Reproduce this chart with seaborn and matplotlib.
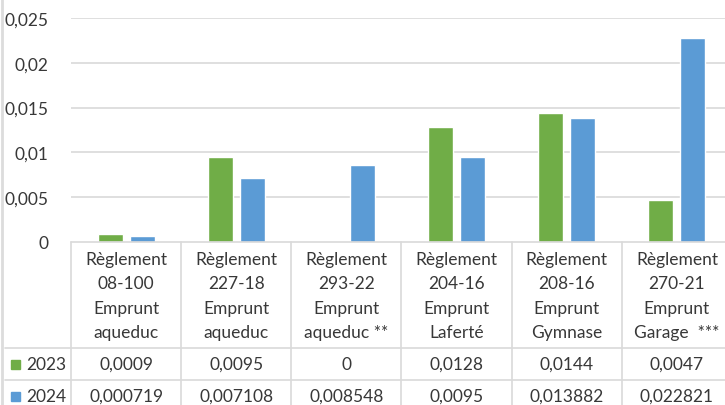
import matplotlib
matplotlib.use("Agg")
import matplotlib.pyplot as plt
import numpy as np
import pandas as pd
import seaborn as sns

# data
categories = [
    "Règlement\n08-100\nEmprunt\naqueduc",
    "Règlement\n227-18\nEmprunt\naqueduc",
    "Règlement\n293-22\nEmprunt\naqueduc **",
    "Règlement\n204-16\nEmprunt\nLaferté",
    "Règlement\n208-16\nEmprunt\nGymnase",
    "Règlement\n270-21\nEmprunt\nGarage  ***",
]
years = ["2023", "2024"]
values_2023 = [0.0009, 0.0095, 0.0, 0.0128, 0.0144, 0.0047]
values_2024 = [0.000719, 0.007108, 0.008548, 0.0095, 0.013882, 0.022821]
colors = {"2023": "#70AD47", "2024": "#5B9BD5"}

df = pd.DataFrame({
    "cat": categories * 2,
    "year": [years[0]] * 6 + [years[1]] * 6,
    "value": values_2023 + values_2024,
})

sns.set_style("white")
plt.rcParams["font.family"] = ["Lato", "DejaVu Sans"]
txt = "#383838"
grid = "#d9d9d9"
fs = 12.5

W, H = 725, 406
fig = plt.figure(figsize=(W / 100, H / 100), dpi=100)
ax_left, ax_right, ax_top, ax_bot = 71, 732, 19, 243
ax = fig.add_axes([ax_left / W, (H - ax_bot) / H, (ax_right - ax_left) / W, (ax_bot - ax_top) / H])

sns.barplot(data=df, x="cat", y="value", hue="year", palette=colors,
            width=0.58, gap=0.22, ax=ax, legend=False, saturation=1)

ax.set_xlim(-0.5, len(categories) - 0.5)
ax.set_ylim(0, 0.025)
yt = [0, 0.005, 0.01, 0.015, 0.02, 0.025]
ax.set_yticks(yt)
ax.set_yticklabels([f"{v:g}".replace(".", ",") for v in yt], color=txt, fontsize=fs)
ax.tick_params(axis="y", length=0, pad=16)
ax.set_xticks([])
ax.set_xlabel("")
ax.set_ylabel("")
for s in ax.spines.values():
    s.set_visible(False)
for v in yt[1:]:
    ax.axhline(v, color=grid, lw=1.2, zorder=0)

# data table under the axis
def fy(p):
    return (ax_bot - p) / (ax_bot - ax_top)

tr = ax.get_xaxis_transform()
kw = dict(color=grid, lw=1.2, clip_on=False, transform=tr)
ax.plot([-0.5, len(categories) - 0.5], [0, 0], **kw)
for i in range(len(categories) + 1):
    ax.plot([i - 0.5, i - 0.5], [0, fy(H + 5)], **kw)

row_lines = [349, 381]
for p in row_lines:
    ax.plot([-0.5 - 66 / 110, len(categories) - 0.5], [fy(p), fy(p)], **kw)

for i, c in enumerate(categories):
    for j, line in enumerate(c.split("\n")):
        ax.text(i, fy(260 + 24.3 * j), line, ha="center", va="center",
                fontsize=fs, color=txt, transform=tr, clip_on=False)

row_y = [365, 397]
for yr, vals, p in zip(years, [values_2023, values_2024], row_y):
    for i, v in enumerate(vals):
        ax.text(i, fy(p), f"{v:g}".replace(".", ","), ha="center", va="center",
                fontsize=fs, color=txt, transform=tr, clip_on=False)
    fig.text(26 / W, (H - p) / H, yr, ha="left", va="center", fontsize=fs, color=txt)
    fig.patches.append(plt.Rectangle((11 / W, (H - p - 4.5) / H), 9 / W, 9 / H,
                                     transform=fig.transFigure, color=colors[yr]))

# faint left border
fig.add_artist(plt.Line2D([2 / W, 2 / W], [0, 1], color="#dcdcdc", lw=2))

fig.savefig("out.png", dpi=100)
